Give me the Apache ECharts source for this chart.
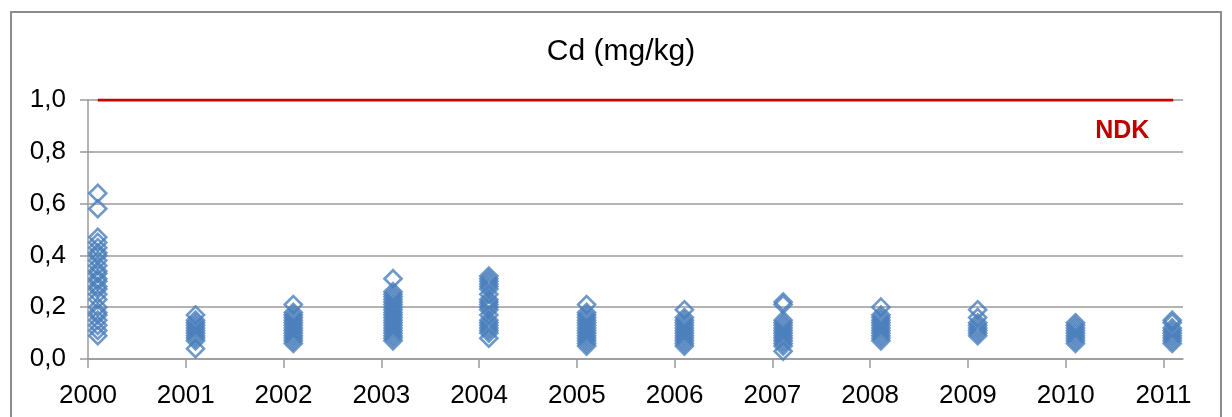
<!DOCTYPE html>
<html>
<head>
<meta charset="utf-8">
<script src="https://cdn.jsdelivr.net/npm/echarts@6/dist/echarts.min.js"></script>
<style>
  html, body { margin: 0; padding: 0; background: #fff; }
  #chart { width: 1232px; height: 417px; }
</style>
</head>
<body>
<div id="chart"></div>
<script>
// Sampling years and the position of each year's sampling date on the time axis
const years = [2000, 2001, 2002, 2003, 2004, 2005, 2006, 2007, 2008, 2009, 2010, 2011];
const sampleX = [2000.10, 2001.10, 2002.10, 2003.12, 2004.10, 2005.10, 2006.10, 2007.11, 2008.11, 2009.10, 2010.10, 2011.09];

// Cd concentrations (mg/kg) measured in each year
const cd2000 = [0.64, 0.58, 0.47, 0.45, 0.43, 0.41, 0.40, 0.38, 0.36, 0.34, 0.33, 0.31, 0.30, 0.28, 0.27, 0.25, 0.23, 0.20, 0.18, 0.17, 0.15, 0.13, 0.11, 0.09];
const cd2001 = [0.17, 0.15, 0.14, 0.13, 0.12, 0.11, 0.10, 0.09, 0.08, 0.07, 0.04];
const cd2002 = [0.21, 0.18, 0.17, 0.16, 0.15, 0.14, 0.13, 0.12, 0.11, 0.10, 0.09, 0.08, 0.07, 0.06];
const cd2003 = [0.31, 0.26, 0.25, 0.24, 0.23, 0.22, 0.21, 0.20, 0.19, 0.18, 0.17, 0.16, 0.15, 0.14, 0.13, 0.12, 0.11, 0.10, 0.09, 0.08, 0.07];
const cd2004 = [0.32, 0.31, 0.30, 0.29, 0.28, 0.27, 0.25, 0.23, 0.22, 0.21, 0.20, 0.19, 0.17, 0.15, 0.14, 0.13, 0.12, 0.11, 0.10, 0.08];
const cd2005 = [0.21, 0.18, 0.17, 0.16, 0.15, 0.14, 0.13, 0.12, 0.11, 0.10, 0.09, 0.08, 0.07, 0.06, 0.05];
const cd2006 = [0.19, 0.16, 0.15, 0.14, 0.13, 0.12, 0.11, 0.10, 0.09, 0.08, 0.07, 0.06, 0.05];
const cd2007 = [0.22, 0.21, 0.15, 0.14, 0.13, 0.12, 0.11, 0.10, 0.09, 0.08, 0.07, 0.06, 0.05, 0.03];
const cd2008 = [0.20, 0.17, 0.16, 0.15, 0.14, 0.13, 0.12, 0.11, 0.10, 0.09, 0.08, 0.07];
const cd2009 = [0.19, 0.16, 0.14, 0.13, 0.12, 0.11, 0.10, 0.09];
const cd2010 = [0.14, 0.13, 0.12, 0.11, 0.10, 0.09, 0.08, 0.07, 0.06];
const cd2011 = [0.15, 0.14, 0.12, 0.11, 0.10, 0.09, 0.08, 0.07, 0.06];
const cdByYear = [cd2000, cd2001, cd2002, cd2003, cd2004, cd2005, cd2006, cd2007, cd2008, cd2009, cd2010, cd2011];

// Limit value (NDK) drawn as a horizontal line across the sampling period
const ndkValue = 1.0;
const ndkLabel = 'NDK';
const ndkX = [2000.1, 2011.1];

const yTicks = [0, 0.2, 0.4, 0.6, 0.8, 1.0];

const points = [];
cdByYear.forEach((vals, i) => vals.forEach(v => points.push([sampleX[i], v])));

const gridColor = '#9a9a9a';
const font = 'Liberation Sans, Arial, sans-serif';

const chart = echarts.init(document.getElementById('chart'), null, { renderer: 'canvas' });
chart.setOption({
  animation: false,
  backgroundColor: '#fff',
  title: {
    text: 'Cd (mg/kg)',
    left: 616,
    textAlign: 'center',
    top: 32,
    textStyle: { fontFamily: font, fontSize: 30, fontWeight: 'normal', color: '#000' }
  },
  graphic: [{
    type: 'rect',
    shape: { x: 11, y: 12, width: 1210, height: 430 },
    style: { fill: 'none', stroke: '#8c8c8c', lineWidth: 2 },
    silent: true,
    z: -1
  }],
  grid: { left: 88, right: 49, top: 100, bottom: 58 },
  xAxis: {
    type: 'value',
    min: 2000,
    max: 2011.2,
    interval: 1,
    axisLine: { show: true, onZero: false, lineStyle: { color: gridColor, width: 1.5 } },
    axisTick: { show: true, length: 9, lineStyle: { color: gridColor, width: 1.5 }, customValues: years },
    axisLabel: {
      customValues: years,
      margin: 24,
      fontFamily: font, fontSize: 26, color: '#000',
      formatter: v => String(Math.round(v))
    },
    splitLine: { show: false }
  },
  yAxis: {
    type: 'value',
    min: 0,
    max: 1,
    interval: 0.2,
    axisLine: { show: true, lineStyle: { color: gridColor, width: 1.5 } },
    axisTick: { show: true, length: 8, lineStyle: { color: gridColor, width: 1.5 }, customValues: yTicks },
    axisLabel: {
      customValues: yTicks,
      margin: 22,
      fontFamily: font, fontSize: 26, color: '#000',
      formatter: v => v.toFixed(1).replace('.', ',')
    },
    splitLine: { show: true, lineStyle: { color: gridColor, width: 1.5 } }
  },
  series: [
    {
      name: 'Cd',
      type: 'scatter',
      data: points,
      symbol: 'diamond',
      symbolSize: 17,
      itemStyle: { color: 'rgba(0,0,0,0)', borderColor: '#4a7ebb', borderWidth: 2.6 },
      z: 3
    },
    {
      name: ndkLabel,
      type: 'line',
      data: ndkX.map(x => [x, ndkValue]),
      showSymbol: false,
      lineStyle: { color: '#c80000', width: 3 },
      endLabel: {
        show: true,
        formatter: ndkLabel,
        offset: [-86, 31],
        color: '#c00000',
        fontFamily: font,
        fontSize: 25,
        fontWeight: 'bold'
      },
      z: 4
    }
  ]
});
</script>
</body>
</html>
